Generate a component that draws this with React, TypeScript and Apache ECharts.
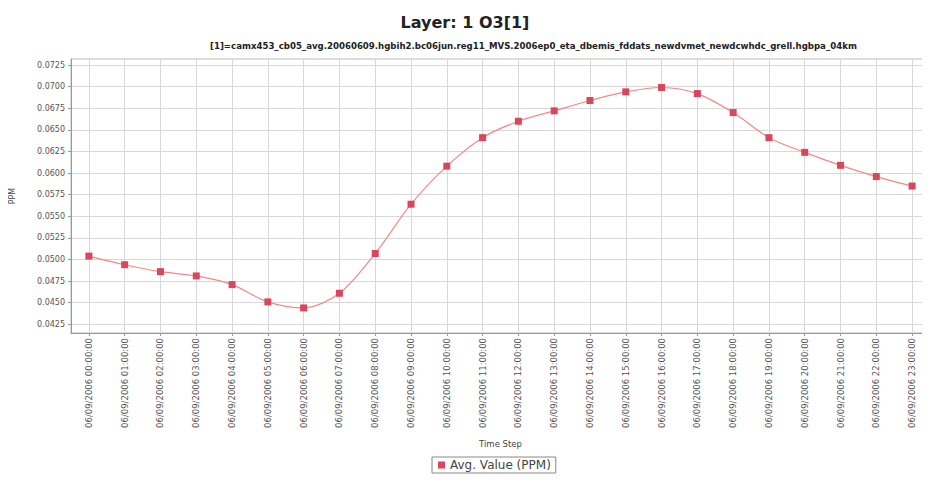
import React, { useEffect, useRef } from "react";
import * as echarts from "echarts";

const categories = [
  "06/09/2006 00:00:00", "06/09/2006 01:00:00", "06/09/2006 02:00:00", "06/09/2006 03:00:00",
  "06/09/2006 04:00:00", "06/09/2006 05:00:00", "06/09/2006 06:00:00", "06/09/2006 07:00:00",
  "06/09/2006 08:00:00", "06/09/2006 09:00:00", "06/09/2006 10:00:00", "06/09/2006 11:00:00",
  "06/09/2006 12:00:00", "06/09/2006 13:00:00", "06/09/2006 14:00:00", "06/09/2006 15:00:00",
  "06/09/2006 16:00:00", "06/09/2006 17:00:00", "06/09/2006 18:00:00", "06/09/2006 19:00:00",
  "06/09/2006 20:00:00", "06/09/2006 21:00:00", "06/09/2006 22:00:00", "06/09/2006 23:00:00",
];

const avgValues = [
  0.0504, 0.0494, 0.0486, 0.0481, 0.0471, 0.0451, 0.0444, 0.0461,
  0.0507, 0.0564, 0.0608, 0.0641, 0.0660, 0.0672, 0.0684, 0.0694,
  0.0699, 0.0692, 0.0670, 0.0641, 0.0624, 0.0609, 0.0596, 0.0585,
];

const yTicks = [
  0.0425, 0.045, 0.0475, 0.05, 0.0525, 0.055, 0.0575, 0.06,
  0.0625, 0.065, 0.0675, 0.07, 0.0725,
];

const titleText = "Layer: 1 O3[1]";
const subtitleText =
  "[1]=camx453_cb05_avg.20060609.hgbih2.bc06jun.reg11_MVS.2006ep0_eta_dbemis_fddats_newdvmet_newdcwhdc_grell.hgbpa_04km";
const seriesName = "Avg. Value (PPM)";

const FONT = "'DejaVu Sans', 'Liberation Sans', sans-serif";

export default function App() {
  const ref = useRef<HTMLDivElement>(null);
  useEffect(() => {
    if (!ref.current) return;
    const chart = echarts.init(ref.current, undefined, { renderer: "svg" });
    chart.setOption({
      animation: false,
      backgroundColor: "#ffffff",
      textStyle: { fontFamily: FONT },
      title: [
        {
          text: titleText,
          left: "center",
          top: 9,
          textStyle: { fontSize: 16, fontWeight: "bold", color: "#222", fontFamily: FONT },
        },
        {
          text: subtitleText,
          left: 205,
          top: 36,
          textStyle: { fontSize: 8.6, fontWeight: "bold", color: "#222", fontFamily: FONT },
        },
      ],
      legend: {
        data: [{ name: seriesName, icon: "rect" }],
        left: 432,
        top: 457,
        itemWidth: 7,
        itemHeight: 7,
        itemGap: 5,
        padding: [2, 5, 2, 6],
        borderColor: "#888",
        borderWidth: 1,
        borderRadius: 0,
        textStyle: { fontSize: 12, color: "#444", fontFamily: FONT },
      },
      grid: {
        left: 71,
        right: -10,
        top: 59,
        bottom: 152,
        show: true,
        borderColor: "#bbb",
        borderWidth: 1,
        backgroundColor: "#ffffff",
      },
      xAxis: {
        type: "category",
        data: categories,
        boundaryGap: true,
        name: "Time Step",
        nameLocation: "middle",
        nameGap: 106,
        nameTextStyle: { fontSize: 8.5, color: "#444", fontFamily: FONT },
        axisLine: { show: true, lineStyle: { color: "#999" } },
        axisTick: { show: true, alignWithLabel: true, length: 3, lineStyle: { color: "#999" } },
        axisLabel: {
          rotate: 90,
          interval: 0,
          fontSize: 8.5,
          color: "#555",
          margin: 5,
          fontFamily: FONT,
        },
        splitLine: { show: false },
      },
      yAxis: {
        type: "value",
        min: 0.0415,
        max: 0.0732,
        name: "PPM",
        nameLocation: "middle",
        nameGap: 55,
        nameRotate: 90,
        nameTextStyle: { fontSize: 8, color: "#444", fontFamily: FONT },
        axisLine: { show: true, lineStyle: { color: "#999" } },
        axisTick: { show: true, length: 3, customValues: yTicks, lineStyle: { color: "#999" } },
        axisLabel: {
          customValues: yTicks,
          fontSize: 8,
          color: "#555",
          margin: 6,
          fontFamily: FONT,
          formatter: (v: number) => v.toFixed(4),
        },
        splitLine: { show: true, lineStyle: { color: "#d8d8d8", width: 1 } },
      },
      series: [
        {
          name: seriesName,
          type: "line",
          data: avgValues,
          smooth: 0.3,
          symbol: "rect",
          symbolSize: 7,
          lineStyle: { color: "#f08a8a", width: 1.2 },
          itemStyle: { color: "#d9475c" },
          markLine: {
            silent: true,
            symbol: "none",
            label: { show: false },
            lineStyle: { color: "#d8d8d8", width: 1, type: "solid" },
            data: categories.map((c) => ({ xAxis: c })),
            z: 1,
          },
        },
      ],
    });
    return () => chart.dispose();
  }, []);
  return <div ref={ref} style={{ width: 930, height: 485, marginLeft: -8, marginTop: -8 }} />;
}
